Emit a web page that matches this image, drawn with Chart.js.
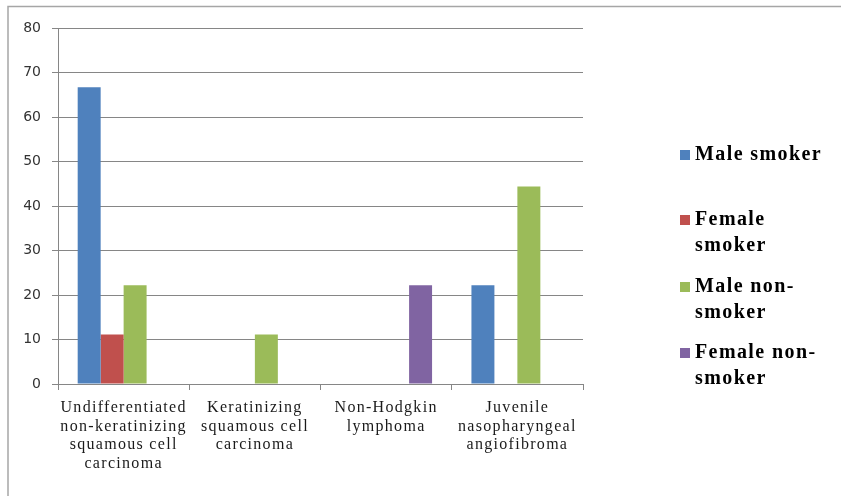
<!DOCTYPE html>
<html>
<head>
<meta charset="utf-8">
<script src="https://cdn.jsdelivr.net/npm/chart.js@4/dist/chart.umd.min.js"></script>
<style>
  html, body { margin: 0; padding: 0; background: #ffffff; }
  #wrap { position: relative; width: 841px; height: 496px; }
</style>
</head>
<body>
<div id="wrap"><canvas id="chart" width="841" height="496"></canvas></div>
<script>
// Tumour types (x-axis categories, one array entry per wrapped line)
const categories = [
  ['Undifferentiated', 'non-keratinizing', 'squamous cell', 'carcinoma'],
  ['Keratinizing', 'squamous cell', 'carcinoma'],
  ['Non-Hodgkin', 'lymphoma'],
  ['Juvenile', 'nasopharyngeal', 'angiofibroma']
];

// Percentage of cases per group
const maleSmoker      = [66.7, 0, 0, 22.2];
const femaleSmoker    = [11.1, 0, 0, 0];
const maleNonSmoker   = [22.2, 11.1, 0, 44.4];
const femaleNonSmoker = [0, 0, 22.2, 0];

// Legend text, wrapped as shown at the side of the plot
const seriesLabels = [
  ['Male smoker'],
  ['Female', 'smoker'],
  ['Male non-', 'smoker'],
  ['Female non-', 'smoker']
];
const seriesColors = ['#4F81BD', '#C0504D', '#9BBB59', '#8064A2'];

const yMin = 0, yMax = 80, yStep = 10;

const gridColor = '#868686';
const serif = '"Liberation Serif", "Times New Roman", serif';

// Frame around the picture (top and left edges)
const framePlugin = {
  id: 'frame',
  beforeDraw(chart) {
    const ctx = chart.ctx;
    ctx.save();
    ctx.strokeStyle = '#a6a6a6';
    ctx.lineWidth = 1.5;
    ctx.beginPath();
    ctx.moveTo(8, 496);
    ctx.lineTo(8, 6.5);
    ctx.lineTo(841, 6.5);
    ctx.stroke();
    ctx.restore();

    // loosely tracked category labels
    const xs = chart.scales.x;
    if (xs && !xs._tracked) {
      const orig = xs.drawLabels.bind(xs);
      xs.drawLabels = function (area) {
        chart.ctx.save();
        chart.ctx.letterSpacing = '1.3px';
        orig(area);
        chart.ctx.restore();
      };
      xs._tracked = true;
    }
  }
};

// Side legend with wrapped, bold serif labels
const sideLegend = {
  id: 'sideLegend',
  afterDraw(chart) {
    const ctx = chart.ctx;
    const x = 680;
    const firstLines = [155, 220, 287, 353];
    const lineGap = 26;
    ctx.save();
    ctx.font = 'bold 20px ' + serif;
    ctx.letterSpacing = '1.4px';
    ctx.textBaseline = 'middle';
    chart.data.datasets.forEach((ds, i) => {
      const y0 = firstLines[i];
      ctx.fillStyle = ds.backgroundColor;
      ctx.fillRect(x, y0 - 5, 10, 10);
      ctx.fillStyle = '#000000';
      ds.wrappedLabel.forEach((line, j) => {
        ctx.fillText(line, x + 15, y0 + j * lineGap);
      });
    });
    ctx.restore();
  }
};

const makeSet = (i, data) => ({
  label: seriesLabels[i].join(' '),
  wrappedLabel: seriesLabels[i],
  data: data,
  backgroundColor: seriesColors[i],
  borderWidth: 0,
  categoryPercentage: 0.7,
  barPercentage: 1.0
});

new Chart(document.getElementById('chart'), {
  type: 'bar',
  data: {
    labels: categories,
    datasets: [
      makeSet(0, maleSmoker),
      makeSet(1, femaleSmoker),
      makeSet(2, maleNonSmoker),
      makeSet(3, femaleNonSmoker)
    ]
  },
  options: {
    responsive: false,
    animation: false,
    layout: { padding: { left: 0, top: 28, right: 258, bottom: 0 } },
    plugins: {
      legend: { display: false },
      tooltip: { enabled: false }
    },
    scales: {
      x: {
        grid: {
          display: true,
          drawOnChartArea: false,
          drawTicks: true,
          tickLength: 6,
          color: gridColor,
          offset: true
        },
        border: { color: gridColor, width: 1 },
        ticks: {
          color: '#1a1a1a',
          font: { family: serif, size: 16, lineHeight: 1.15 },
          padding: 9,
          maxRotation: 0,
          autoSkip: false
        },
        afterFit(scale) { scale.height = 112; }
      },
      y: {
        min: yMin,
        max: yMax,
        grid: {
          color: gridColor,
          drawTicks: true,
          tickLength: 6
        },
        border: { color: gridColor, width: 1 },
        ticks: {
          stepSize: yStep,
          color: '#333333',
          font: { family: '"DejaVu Sans", Verdana, sans-serif', size: 14 },
          padding: 11
        },
        afterFit(scale) { scale.width = 58; }
      }
    }
  },
  plugins: [framePlugin, sideLegend]
});
</script>
</body>
</html>
